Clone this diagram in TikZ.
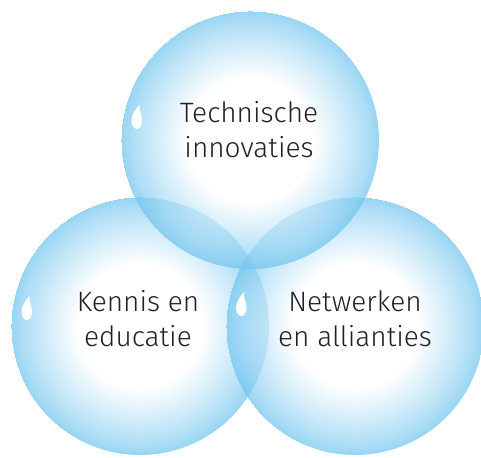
\documentclass[tikz,border=0pt]{standalone}
\usepackage{fontspec}
\setmainfont{Fira Sans}[UprightFont=* Light]
\usetikzlibrary{calc}
\definecolor{bub}{RGB}{108,194,238}
\definecolor{txt}{RGB}{35,31,32}
\pgfdeclareradialshading{bubble}{\pgfpoint{0bp}{0bp}}{%
  color(0bp)=(white); color(12bp)=(white); color(18bp)=(bub!42);
  color(23bp)=(bub!80); color(25bp)=(bub)}
\tikzset{
  bubblenode/.style={circle, minimum size=258pt, inner sep=0pt, shading=bubble, fill opacity=0.7, draw=none},
  label/.style={align=center, text=txt, font=\fontsize{28}{35}\selectfont, inner sep=0pt},
}
\newcommand{\dropshape}[1]{%
  \fill[white] ($(#1)+(2.5,-12)$) .. controls ($(#1)+(-1,-8)$) and ($(#1)+(-5.5,-3)$) .. ($(#1)+(-5.5,4)$)
    .. controls ($(#1)+(-5.5,9.5)$) and ($(#1)+(-2.5,12)$) .. ($(#1)+(0,12)$)
    .. controls ($(#1)+(3,12)$) and ($(#1)+(5,9)$) .. ($(#1)+(5,3)$)
    .. controls ($(#1)+(5,-2)$) and ($(#1)+(2,-6)$) .. cycle;}
\begin{document}
\begin{tikzpicture}[x=1pt,y=-1pt]
\useasboundingbox (0,0) rectangle (481,457);
\node[bubblenode] (left) at (140,326) {};
\node[bubblenode] (right) at (355,326) {};
\node[bubblenode] (top) at (250,140) {};
\coordinate (dt) at (137,117);
\coordinate (dl) at (27,308);
\coordinate (dr) at (241.5,304);
\dropshape{dt}
\dropshape{dl}
\dropshape{dr}
\node[label] (ttop) at (249,130) {Technische\\innovaties};
\node[label] (tleft) at (138,319) {Kennis en\\educatie};
\node[label] (tright) at (355,319) {Netwerken\\en allianties};
\end{tikzpicture}
\end{document}
